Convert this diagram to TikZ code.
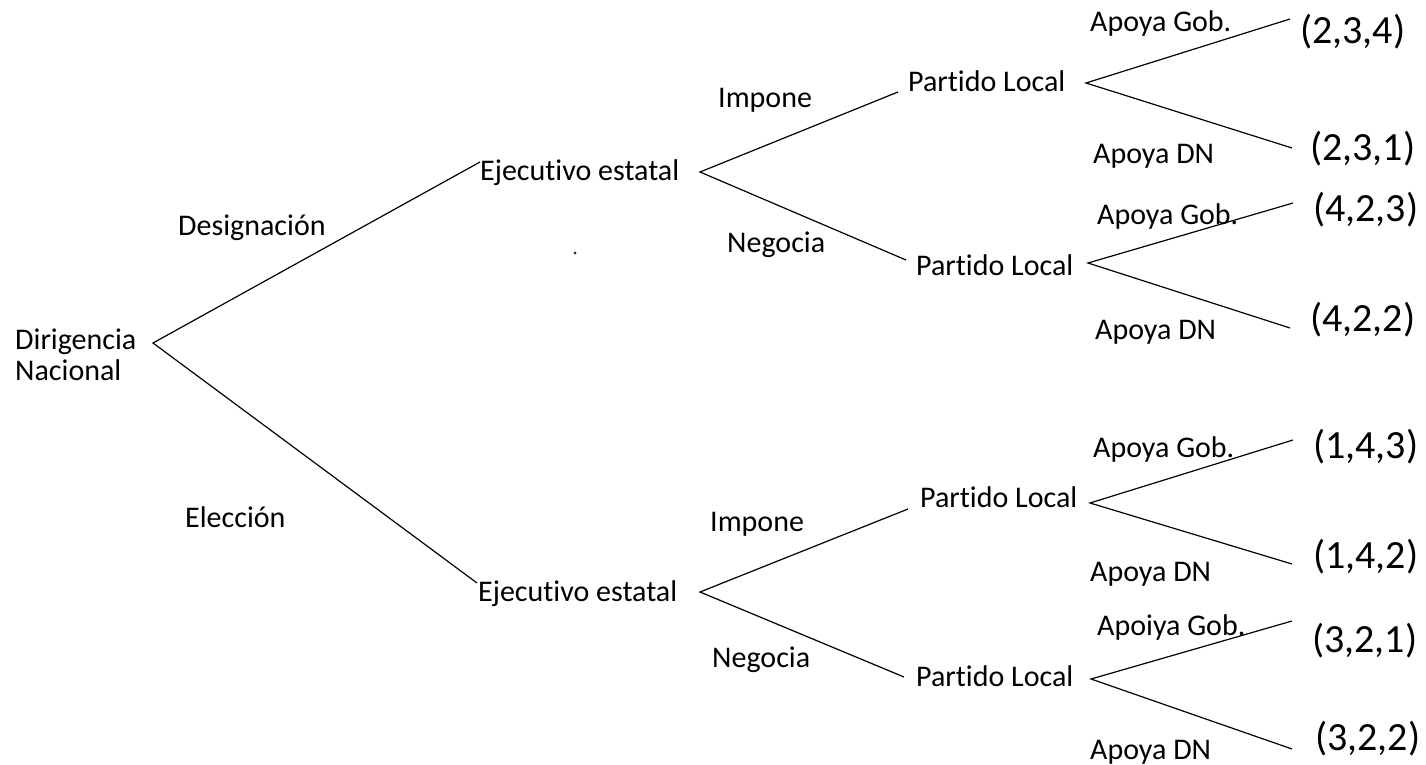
\documentclass[tikz,border=0pt]{standalone}
\usepackage{fontspec}
\setmainfont{Carlito}[Ligatures=NoCommon]
\begin{document}
\begin{tikzpicture}[x=1pt,y=-1pt,
  lbl/.style={anchor=base west, inner sep=0pt, font=\fontsize{30}{31}\selectfont},
  pay/.style={anchor=base west, inner sep=0pt, font=\fontsize{40}{44}\selectfont},
  branch/.style={draw=black, line width=1.2pt}]
\useasboundingbox (0,0) rectangle (1426,765);
\fill[white] (0,0) rectangle (1426,765);

% decision nodes (text)
\node[lbl] (dn1) at (15,349) {Dirigencia};
\node[lbl] (dn2) at (15,380) {Nacional};
\node[lbl] (ee1) at (480,180) {Ejecutivo estatal};
\node[lbl] (ee2) at (478,601) {Ejecutivo estatal};
\node[lbl] (pl1) at (908,92) {Partido Local};
\node[lbl] (pl2) at (916,275) {Partido Local};
\node[lbl] (pl3) at (920,507) {Partido Local};
\node[lbl] (pl4) at (916,686) {Partido Local};

% payoffs
\node[pay] (p1) at (1300,44) {(2,3,4)};
\node[pay] (p2) at (1310,160) {(2,3,1)};
\node[pay] (p3) at (1313,221) {(4,2,3)};
\node[pay] (p4) at (1310,331) {(4,2,2)};
\node[pay] (p5) at (1313,458) {(1,4,3)};
\node[pay] (p6) at (1313,568) {(1,4,2)};
\node[pay] (p7) at (1312,652) {(3,2,1)};
\node[pay] (p8) at (1315,750) {(3,2,2)};

% action labels
\node[lbl] (l1) at (178,235) {Designación};
\node[lbl] (l2) at (185,527) {Elección};
\node[lbl] (l3) at (718,108) {Impone};
\node[lbl] (l4) at (727,252) {Negocia};
\node[lbl] (l5) at (710,531) {Impone};
\node[lbl] (l6) at (712,667) {Negocia};
\node[lbl] (l7) at (1090,32) {Apoya Gob.};
\node[lbl] (l8) at (1093,164) {Apoya DN};
\node[lbl] (l9) at (1097,224) {Apoya Gob.};
\node[lbl] (l10) at (1095,339) {Apoya DN};
\node[lbl] (l11) at (1093,457) {Apoya Gob.};
\node[lbl] (l12) at (1090,581) {Apoya DN};
\node[lbl] (l13) at (1097,635) {Apoiya Gob.};
\node[lbl] (l14) at (1090,759) {Apoya DN};

% branching points and branch ends
\coordinate (v0) at (153,343);
\coordinate (a1) at (480,162);
\coordinate (a2) at (477,583);
\coordinate (v1) at (700,172);
\coordinate (b1) at (898,92);
\coordinate (b2) at (906,260);
\coordinate (v2) at (700,592);
\coordinate (b3) at (908,509);
\coordinate (b4) at (904,677);
\coordinate (w1) at (1086,83);
\coordinate (c1) at (1290,19);
\coordinate (c2) at (1292,148);
\coordinate (w2) at (1088,263);
\coordinate (c3) at (1293,203);
\coordinate (c4) at (1290,328);
\coordinate (w3) at (1090,503);
\coordinate (c5) at (1293,440);
\coordinate (c6) at (1292,564);
\coordinate (w4) at (1091,679);
\coordinate (c7) at (1292,621);
\coordinate (c8) at (1292,749);

% branches
\draw[branch] (a1) -- (v0) -- (a2);
\draw[branch] (b1) -- (v1) -- (b2);
\draw[branch] (b3) -- (v2) -- (b4);
\draw[branch] (c1) -- (w1) -- (c2);
\draw[branch] (c3) -- (w2) -- (c4);
\draw[branch] (c5) -- (w3) -- (c6);
\draw[branch] (c7) -- (w4) -- (c8);

% stray dot
\fill[black!80] (575,253) circle (1.6);
\end{tikzpicture}
\end{document}
